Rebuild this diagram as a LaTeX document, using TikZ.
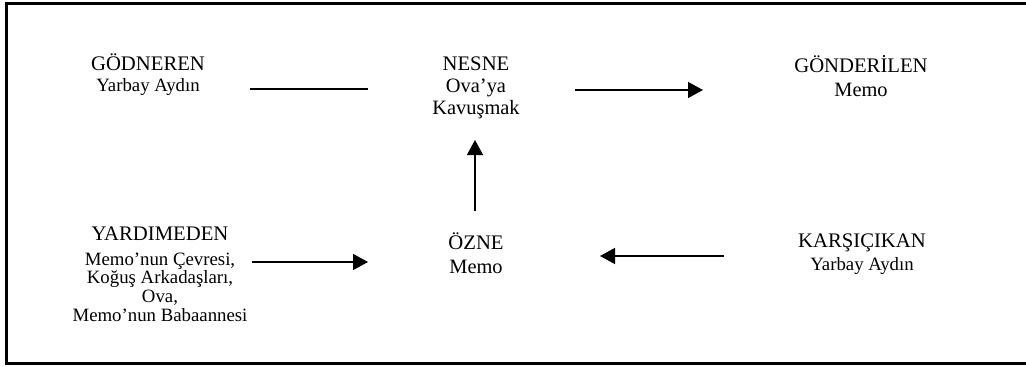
\documentclass[tikz,border=0pt]{standalone}
\usepackage{fontspec}
\setmainfont{Liberation Serif}
\usetikzlibrary{arrows.meta}
\begin{document}
\begin{tikzpicture}[x=1pt,y=-1pt,
  ttl/.style={font=\fontsize{20.7}{24}\selectfont, inner sep=0pt, anchor=base},
  bigsub/.style={font=\fontsize{20.4}{21.5}\selectfont, inner sep=0pt, align=center},
  smallsub/.style={font=\fontsize{18.8}{18.8}\selectfont, inner sep=0pt, align=center},
  conn/.style={line width=1.3pt},
  arr/.style={conn, -{Triangle[length=15pt,width=16pt]}}]
\useasboundingbox (0,0) rectangle (1026,367);
\draw[line width=2.6pt] (6.5,3.5) rectangle (1040,363.5);

% top row
\node[ttl] (gon) at (148,70) {GÖDNEREN};
\node[smallsub, anchor=base] (gonS) at (148,91) {Yarbay Aydın};
\node[ttl] (nes) at (476,70) {NESNE};
\node[bigsub, anchor=north] (nesS) at (476,79) {Ova’ya\\Kavuşmak};
\node[ttl] (gdr) at (861,72) {GÖNDERİLEN};
\node[bigsub, anchor=base] (gdrS) at (861,96) {Memo};

% bottom row
\node[ttl] (yar) at (160,240) {YARDIMEDEN};
\node[smallsub, anchor=north] (yarS) at (160,252.3) {Memo’nun Çevresi,\\Koğuş Arkadaşları,\\Ova,\\Memo’nun Babaannesi};
\node[ttl] (ozn) at (476,249) {ÖZNE};
\node[bigsub, anchor=base] (oznS) at (476,273) {Memo};
\node[ttl] (kar) at (862,247) {KARŞIÇIKAN};
\node[smallsub, anchor=base] (karS) at (862,270) {Yarbay Aydın};

% connector end points
\coordinate (c1a) at (250,89);
\coordinate (c1b) at (368,89);
\coordinate (c2a) at (575,90);
\coordinate (c2b) at (703,90);
\coordinate (c3a) at (475,211);
\coordinate (c3b) at (475,140);
\coordinate (c4a) at (724,256);
\coordinate (c4b) at (600,256);
\coordinate (c5a) at (252,262);
\coordinate (c5b) at (368,262);

\draw[conn] (c1a) -- (c1b);
\draw[arr] (c2a) -- (c2b);
\draw[arr] (c3a) -- (c3b);
\draw[arr] (c4a) -- (c4b);
\draw[arr] (c5a) -- (c5b);
\end{tikzpicture}
\end{document}
